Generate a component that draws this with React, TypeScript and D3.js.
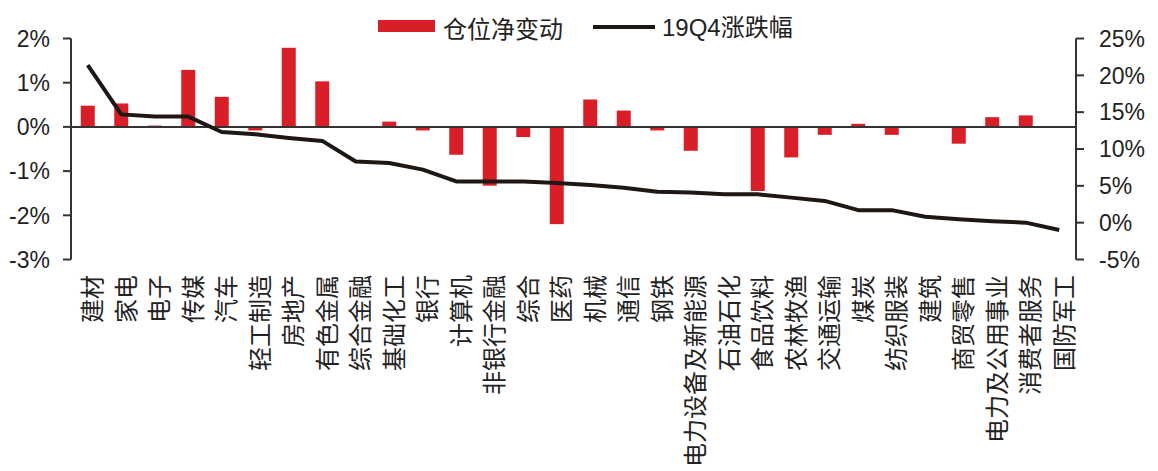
import React from "react";
import * as d3 from "d3";

const categories = ["建材","家电","电子","传媒","汽车","轻工制造","房地产","有色金属","综合金融","基础化工","银行","计算机","非银行金融","综合","医药","机械","通信","钢铁","电力设备及新能源","石油石化","食品饮料","农林牧渔","交通运输","煤炭","纺织服装","建筑","商贸零售","电力及公用事业","消费者服务","国防军工"];
const positionChange = [0.48,0.53,0.03,1.29,0.68,-0.08,1.79,1.03,0.005,0.12,-0.08,-0.63,-1.33,-0.23,-2.2,0.62,0.37,-0.08,-0.54,0.02,-1.45,-0.69,-0.18,0.07,-0.18,0.02,-0.38,0.22,0.26,0.02];
const q4Return = [21.4,14.7,14.4,14.4,12.3,12.0,11.5,11.1,8.3,8.1,7.2,5.6,5.6,5.6,5.4,5.1,4.75,4.2,4.1,3.85,3.85,3.4,2.95,1.7,1.7,0.8,0.45,0.2,0.0,-1.0];
const leftTicks = [2,1,0,-1,-2,-3];
const rightTicks = [25,20,15,10,5,0,-5];
const legendLabels = ["仓位净变动","19Q4涨跌幅"];

const W = 1158, H = 471;
const left = 71, right = 1076, top = 38.5, bottom = 259.5;
const RED = "#d81e26";
const LINE = "#1e1714";
const AXIS = "#333333";
const FONT = "'Liberation Sans', Arial, 'Noto Sans CJK SC', sans-serif";
const CJK = "'Noto Sans CJK SC', 'Liberation Sans', sans-serif";

export default function App() {
  const x = d3.scaleBand<string>().domain(categories).range([left, right]).paddingInner(0.58).paddingOuter(0.29);
  const yL = d3.scaleLinear().domain([-3, 2]).range([bottom, top]);
  const yR = d3.scaleLinear().domain([-5, 25]).range([bottom, top]);
  const step = (right - left) / categories.length;
  const cx = (i: number) => left + step * (i + 0.5);
  const bw = 14;
  const line = d3.line<number>().x((_, i) => cx(i)).y((d) => yR(d));

  return (
    <svg width={W} height={H} style={{ position: "absolute", left: 0, top: 0, background: "#fff" }}>
      {/* bars */}
      {positionChange.map((v, i) => (
        <rect key={i} x={cx(i) - bw / 2} width={bw} y={Math.min(yL(v), yL(0))} height={Math.abs(yL(v) - yL(0))} fill={RED} />
      ))}
      {/* zero line */}
      <line x1={left} x2={right} y1={yL(0)} y2={yL(0)} stroke={AXIS} strokeWidth={2} />
      {/* left axis */}
      <line x1={left} x2={left} y1={top} y2={bottom} stroke={AXIS} strokeWidth={2} />
      {leftTicks.map((t) => (
        <g key={t}>
          <line x1={left - 8} x2={left} y1={yL(t)} y2={yL(t)} stroke={AXIS} strokeWidth={2} />
          <text x={50} y={yL(t)} dy="0.36em" textAnchor="end" fontSize={23} fontFamily={FONT} fill="#222">{`${t}%`}</text>
        </g>
      ))}
      {/* right axis */}
      <line x1={right} x2={right} y1={top} y2={bottom} stroke={AXIS} strokeWidth={2} />
      {rightTicks.map((t) => (
        <g key={t}>
          <line x1={right} x2={right + 8} y1={yR(t)} y2={yR(t)} stroke={AXIS} strokeWidth={2} />
          <text x={1099} y={yR(t)} dy="0.36em" textAnchor="start" fontSize={23} fontFamily={FONT} fill="#222">{`${t}%`}</text>
        </g>
      ))}
      {/* line */}
      <path d={line(q4Return) || ""} fill="none" stroke={LINE} strokeWidth={4} strokeLinejoin="round" />
      {/* category labels */}
      {categories.map((c, i) => (
        <text key={c} transform={`translate(${cx(i) + 3},275) rotate(-90)`} textAnchor="end" dominantBaseline="central" fontSize={24} fontFamily={CJK} fill="#222">{c}</text>
      ))}
      {/* legend */}
      <rect x={378} y={20} width={57} height={12} fill={RED} />
      <text x={443} y={27} dominantBaseline="central" fontSize={24} fontFamily={CJK} fill="#222">{legendLabels[0]}</text>
      <line x1={593} x2={655} y1={27} y2={27} stroke={LINE} strokeWidth={4} />
      <text x={662} y={27} dominantBaseline="central" fontSize={24} fontFamily={FONT} fill="#222">{legendLabels[1]}</text>
    </svg>
  );
}
